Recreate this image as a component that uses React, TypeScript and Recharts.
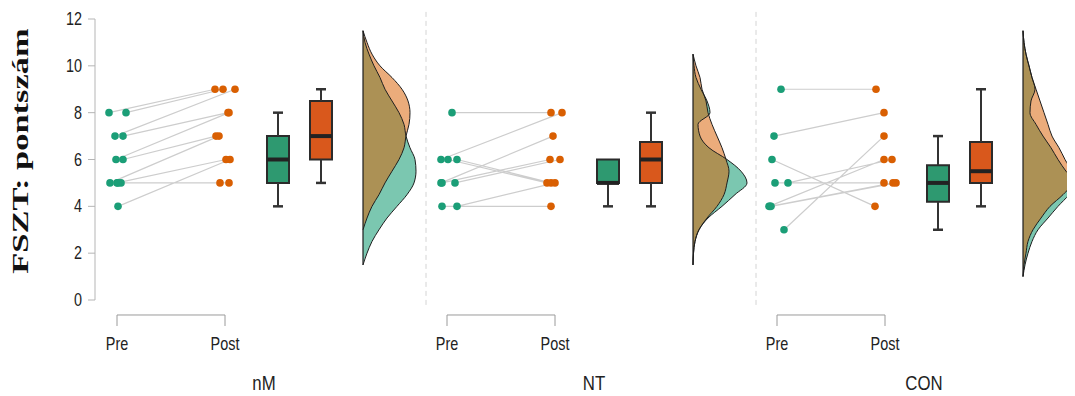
import React from 'react';
import {
  ComposedChart,
  Line,
  Scatter,
  Area,
  XAxis,
  YAxis,
  ReferenceLine,
  ReferenceArea,
} from 'recharts';

const yTicks = [0, 2, 4, 6, 8, 10, 12];
const groupNames = ['nM', 'NT', 'CON'];

// paired scores, pre -> post (same index = same person)
const nmPre = [8, 8, 7, 7, 6, 6, 5, 5, 5, 5, 4];
const nmPost = [9, 9, 9, 8, 8, 7, 7, 6, 5, 5, 6];
const ntPre = [8, 6, 6, 6, 5, 5, 5, 4, 4];
const ntPost = [8, 8, 5, 5, 7, 6, 6, 5, 4];
const conPre = [9, 7, 6, 5, 5, 4, 4, 4, 3];
const conPost = [9, 8, 4, 5, 6, 6, 5, 5, 7];

// horizontal jitter of the dots
const nmPreJit = [-8, 9, -2, 6, -1, 6, -7, 0, 4, 1, 1];
const nmPostJit = [-10, -2, 10, 3, 4, -9, -6, 1, -5, 4, 5];
const ntPreJit = [5, -6, 1, 10, -6, -5, 8, 10, -5];
const ntPostJit = [-4, 7, -8, -4, -2, -5, 5, 0, -4];
const conPreJit = [4, -3, -5, -2, 11, -8, -7, -6, 7];
const conPostJit = [-9, -1, -10, -1, 7, -1, 8, 11, -1];

// boxplots: [min, q1, median, q3, max]
const nmPreBox = [4, 5, 6, 7, 8];
const nmPostBox = [5, 6, 7, 8.5, 9];
const ntPreBox = [4, 5, 5, 6, 6];
const ntPostBox = [4, 5, 6, 6.75, 8];
const conPreBox = [3, 4.2, 5, 5.75, 7];
const conPostBox = [4, 5, 5.5, 6.75, 9];

// half-violin widths along the score axis (null = outside the curve)
const densV = [12, 11.5, 11, 10.5, 10, 9.5, 9, 8.5, 8, 7.5, 7, 6.5, 6, 5.5, 5, 4.5, 4, 3.5, 3, 2.5, 2, 1.5, 1];
const nmPreDens = [null, 0, 2, 6, 11, 17, 22, 29, 36, 41, 43, 47, 52, 53, 51, 44, 34, 24, 16, 9, 4, 0, null];
const nmPostDens = [null, 0, 4, 9, 17, 29, 39, 45, 47, 46, 43, 41, 36, 29, 22, 16, 9, 4, 0, null, null, null, null];
const ntPreDens = [null, null, null, 0, 1, 3, 8, 14, 17, 5, 7, 16, 34, 48, 54, 42, 29, 15, 6, 2, 0.5, 0, null];
const ntPostDens = [null, null, null, 0, 3, 7, 9, 13, 15, 19, 24, 29, 33, 36, 34, 31, 24, 14, 6, 2, 0.5, 0, null];
const conPreDens = [null, 0, 1, 3, 6, 9, 12, 8, 7, 13, 20, 28, 35, 43, 53, 46, 35, 25, 15, 9, 5, 2, 0];
const conPostDens = [null, 0, 1, 3, 6, 9, 13, 17, 21, 25, 29, 36, 42, 48, 49, 40, 27, 18, 10, 5, 3, 1, 0];

const GREEN = '#1b9e77';
const ORANGE = '#d95f02';
const BOX_GREEN = '#2e9970';
const BOX_ORANGE = '#d9581c';
const FONT = "'Liberation Sans', Arial, sans-serif";
const NARROW = 0.8;

const W = 1067;
const H = 388;
const MARGIN = { top: 11, right: 0, left: 0, bottom: 0 };
const Y_AXIS_W = 87;
const X_AXIS_H = 96;
const X_MAX = 980;

const PANEL = 330;
const PRE_X = 22;
const POST_X = 130;
const BOX_PRE_X = 183;
const BOX_POST_X = 226;
const DENS_X = 268;
const LABEL_X = 169;

const panels = [
  { pre: nmPre, post: nmPost, preJit: nmPreJit, postJit: nmPostJit, preBox: nmPreBox, postBox: nmPostBox, preDens: nmPreDens, postDens: nmPostDens },
  { pre: ntPre, post: ntPost, preJit: ntPreJit, postJit: ntPostJit, preBox: ntPreBox, postBox: ntPostBox, preDens: ntPreDens, postDens: ntPostDens },
  { pre: conPre, post: conPost, preJit: conPreJit, postJit: conPostJit, preBox: conPreBox, postBox: conPostBox, preDens: conPreDens, postDens: conPostDens },
];

const tickLabels = new Map<number, string>();
panels.forEach((_, i) => {
  tickLabels.set(i * PANEL + PRE_X, 'Pre');
  tickLabels.set(i * PANEL + POST_X, 'Post');
  tickLabels.set(i * PANEL + LABEL_X, groupNames[i]);
});
const xTicks = Array.from(tickLabels.keys()).sort((a, b) => a - b);

// fill rows use zero width outside the curve, outline rows use null there
const densRows = densV.map((v, k) => {
  const row: Record<string, any> = { v };
  panels.forEach((p, i) => {
    const base = i * PANEL + DENS_X;
    const a = p.preDens[k];
    const b = p.postDens[k];
    row[`fpre${i}`] = [base, base + (a ?? 0)];
    row[`fpost${i}`] = [base, base + (b ?? 0)];
    row[`lpre${i}`] = a == null ? null : base + a;
    row[`lpost${i}`] = b == null ? null : base + b;
  });
  return row;
});

const densExtent = panels.map((p) => {
  const vs = densV.filter((_, k) => p.preDens[k] != null || p.postDens[k] != null);
  return [Math.min(...vs), Math.max(...vs)];
});

const NarrowText = ({ x, y, size, anchor, children }: any) => (
  <text
    transform={`translate(${x},${y}) scale(${NARROW},1)`}
    x={0}
    y={0}
    textAnchor={anchor}
    fontSize={size}
    fontFamily={FONT}
    fill="#222"
  >
    {children}
  </text>
);

const XTick = (props: any) => {
  const { x, y, payload } = props;
  const label = tickLabels.get(payload.value) || '';
  if (label !== 'Pre' && label !== 'Post') {
    return <NarrowText x={x} y={y + 90} size={21} anchor="middle">{label}</NarrowText>;
  }
  return <NarrowText x={x} y={y + 50} size={18} anchor="middle">{label}</NarrowText>;
};

const YTick = (props: any) => {
  const { x, y, payload } = props;
  return <NarrowText x={x} y={y + 6} size={18} anchor="end">{payload.value}</NarrowText>;
};

const YTitle = () => (
  <text
    transform="translate(20,143) rotate(-90) scale(1.5,1)"
    x={0}
    y={0}
    textAnchor="middle"
    fontFamily="'Liberation Serif', 'Times New Roman', serif"
    fontWeight="bold"
    fontSize={23}
    fill="#111"
  >
    FSZT: pontszám
  </text>
);

const dot = (color: string) => (p: any) => <circle cx={p.cx} cy={p.cy} r={3.8} fill={color} />;

const BRACKET_TOP = -0.64;
const BRACKET_BOTTOM = -1.11;

function boxElements(center: number, box: number[], fill: string, key: string) {
  const [min, q1, med, q3, max] = box;
  const els: React.ReactNode[] = [];
  if (max > q3) {
    els.push(<ReferenceLine key={`${key}wu`} segment={[{ x: center, y: q3 }, { x: center, y: max }]} stroke="#333" strokeWidth={2} ifOverflow="visible" />);
    els.push(<ReferenceLine key={`${key}cu`} segment={[{ x: center - 5, y: max }, { x: center + 5, y: max }]} stroke="#333" strokeWidth={2.5} ifOverflow="visible" />);
  }
  if (min < q1) {
    els.push(<ReferenceLine key={`${key}wl`} segment={[{ x: center, y: q1 }, { x: center, y: min }]} stroke="#333" strokeWidth={2} ifOverflow="visible" />);
    els.push(<ReferenceLine key={`${key}cl`} segment={[{ x: center - 5, y: min }, { x: center + 5, y: min }]} stroke="#333" strokeWidth={2.5} ifOverflow="visible" />);
  }
  els.push(<ReferenceArea key={`${key}b`} x1={center - 11} x2={center + 11} y1={q1} y2={q3} fill={fill} fillOpacity={1} stroke="#2b2b2b" strokeWidth={2} ifOverflow="visible" />);
  els.push(<ReferenceLine key={`${key}m`} segment={[{ x: center - 11, y: med }, { x: center + 11, y: med }]} stroke="#222" strokeWidth={4} ifOverflow="visible" />);
  return els;
}

export default function App() {
  return (
    <div style={{ position: 'relative', width: W, height: H }}>
      <div style={{ position: 'absolute', left: 0, top: 0 }}>
        <ComposedChart
          width={W}
          height={H}
          layout="vertical"
          data={densRows}
          margin={{ top: MARGIN.top, right: 0, bottom: X_AXIS_H, left: Y_AXIS_W }}
        >
          <XAxis type="number" domain={[0, X_MAX]} hide allowDataOverflow />
          <YAxis type="number" dataKey="v" domain={[0, 12]} hide allowDataOverflow reversed />
          {panels.map((_, i) => [
            <Area
              key={`fpre${i}`}
              type="monotone"
              dataKey={`fpre${i}`}
              fill={GREEN}
              fillOpacity={0.58}
              stroke="none"
              isAnimationActive={false}
              dot={false}
              activeDot={false}
            />,
            <Line
              key={`lpre${i}`}
              type="monotone"
              dataKey={`lpre${i}`}
              stroke="#1e1e1e"
              strokeWidth={1}
              dot={false}
              activeDot={false}
              isAnimationActive={false}
            />,
            <Area
              key={`fpost${i}`}
              type="monotone"
              dataKey={`fpost${i}`}
              fill={ORANGE}
              fillOpacity={0.52}
              stroke="none"
              isAnimationActive={false}
              dot={false}
              activeDot={false}
            />,
            <Line
              key={`lpost${i}`}
              type="monotone"
              dataKey={`lpost${i}`}
              stroke="#1e1e1e"
              strokeWidth={1}
              dot={false}
              activeDot={false}
              isAnimationActive={false}
            />,
            <ReferenceLine
              key={`base${i}`}
              segment={[
                { x: i * PANEL + DENS_X, y: densExtent[i][0] },
                { x: i * PANEL + DENS_X, y: densExtent[i][1] },
              ]}
              stroke="#1e1e1e"
              strokeWidth={1.2}
              ifOverflow="visible"
            />,
          ])}
        </ComposedChart>
      </div>
      <div style={{ position: 'absolute', left: 0, top: 0 }}>
        <ComposedChart width={W} height={H} margin={MARGIN}>
          <XAxis
            type="number"
            dataKey="x"
            domain={[0, X_MAX]}
            allowDataOverflow
            ticks={xTicks}
            tick={<XTick />}
            tickSize={0}
            tickMargin={0}
            tickLine={false}
            axisLine={false}
            height={X_AXIS_H}
            interval={0}
          />
          <YAxis
            type="number"
            domain={[0, 12]}
            ticks={yTicks}
            width={Y_AXIS_W}
            tickSize={7}
            tickMargin={6}
            axisLine={{ stroke: '#b5b5b5' }}
            tickLine={{ stroke: '#b5b5b5' }}
            tick={<YTick />}
            allowDataOverflow
            label={{ content: () => <YTitle /> }}
          />
          {[1, 2].map((i) => (
            <ReferenceLine
              key={`sep${i}`}
              segment={[{ x: i * PANEL + 1, y: -0.21 }, { x: i * PANEL + 1, y: 12.48 }]}
              stroke="#d4d4d4"
              strokeDasharray="5 4"
              ifOverflow="visible"
            />
          ))}
          {panels.map((_, i) => {
            const a = i * PANEL + PRE_X;
            const b = i * PANEL + POST_X;
            return [
              <ReferenceLine key={`bh${i}`} segment={[{ x: a, y: BRACKET_TOP }, { x: b, y: BRACKET_TOP }]} stroke="#9a9a9a" ifOverflow="visible" />,
              <ReferenceLine key={`bl${i}`} segment={[{ x: a, y: BRACKET_TOP }, { x: a, y: BRACKET_BOTTOM }]} stroke="#9a9a9a" ifOverflow="visible" />,
              <ReferenceLine key={`br${i}`} segment={[{ x: b, y: BRACKET_TOP }, { x: b, y: BRACKET_BOTTOM }]} stroke="#9a9a9a" ifOverflow="visible" />,
            ];
          })}
          {panels.map((p, i) => [
            ...boxElements(i * PANEL + BOX_PRE_X, p.preBox, BOX_GREEN, `bp${i}`),
            ...boxElements(i * PANEL + BOX_POST_X, p.postBox, BOX_ORANGE, `bq${i}`),
          ])}
          {panels.map((p, i) => (
            <Line
              key={`pairs${i}`}
              data={p.pre.flatMap((v, k) => [
                { x: i * PANEL + PRE_X + p.preJit[k], y: v },
                { x: i * PANEL + POST_X + p.postJit[k], y: p.post[k] },
                { x: i * PANEL + POST_X, y: null },
              ])}
              dataKey="y"
              type="linear"
              stroke="#cdcdcd"
              strokeWidth={1.2}
              dot={false}
              activeDot={false}
              connectNulls={false}
              isAnimationActive={false}
            />
          ))}
          {panels.map((p, i) => [
            <Scatter
              key={`spre${i}`}
              data={p.pre.map((v, k) => ({ x: i * PANEL + PRE_X + p.preJit[k], y: v }))}
              dataKey="y"
              shape={dot(GREEN)}
              isAnimationActive={false}
            />,
            <Scatter
              key={`spost${i}`}
              data={p.post.map((v, k) => ({ x: i * PANEL + POST_X + p.postJit[k], y: v }))}
              dataKey="y"
              shape={dot(ORANGE)}
              isAnimationActive={false}
            />,
          ])}
        </ComposedChart>
      </div>
    </div>
  );
}
